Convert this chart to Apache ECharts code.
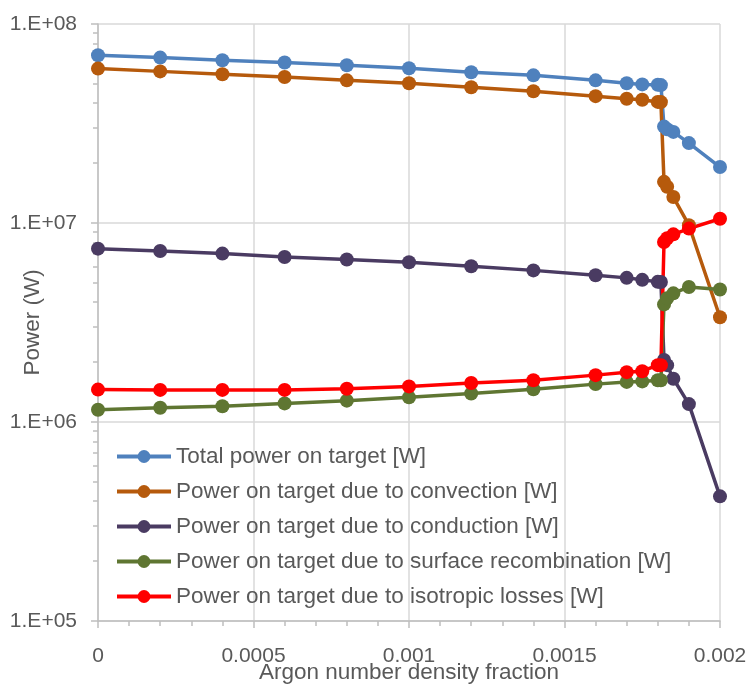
<!DOCTYPE html>
<html>
<head>
<meta charset="utf-8">
<script src="https://cdn.jsdelivr.net/npm/echarts@6/dist/echarts.min.js"></script>
<style>html,body{margin:0;padding:0;background:#fff}#c{width:750px;height:684px}</style>
</head>
<body>
<div id="c"></div>
<script>
var xValues = [0, 0.0002, 0.0004, 0.0006, 0.0008, 0.001, 0.0012, 0.0014, 0.0016, 0.0017, 0.00175, 0.0018, 0.00181, 0.00182, 0.00183, 0.00185, 0.0019, 0.002];
var totalPower = [6.97e7, 6.78e7, 6.57e7, 6.40e7, 6.20e7, 5.99e7, 5.72e7, 5.52e7, 5.21e7, 5.04e7, 4.97e7, 4.95e7, 4.93e7, 3.05e7, 2.96e7, 2.87e7, 2.52e7, 1.91e7];
var convection = [5.97e7, 5.78e7, 5.59e7, 5.42e7, 5.21e7, 5.04e7, 4.81e7, 4.59e7, 4.34e7, 4.21e7, 4.16e7, 4.06e7, 4.05e7, 1.61e7, 1.52e7, 1.35e7, 9.75e6, 3.36e6];
var conduction = [7.43e6, 7.23e6, 7.02e6, 6.75e6, 6.55e6, 6.35e6, 6.06e6, 5.78e6, 5.46e6, 5.30e6, 5.18e6, 5.06e6, 5.05e6, 2.05e6, 1.93e6, 1.65e6, 1.23e6, 4.23e5];
var recombination = [1.153e6, 1.18e6, 1.20e6, 1.24e6, 1.28e6, 1.33e6, 1.39e6, 1.46e6, 1.55e6, 1.59e6, 1.60e6, 1.62e6, 1.62e6, 3.90e6, 4.19e6, 4.43e6, 4.77e6, 4.63e6];
var isotropic = [1.455e6, 1.45e6, 1.45e6, 1.45e6, 1.47e6, 1.51e6, 1.57e6, 1.62e6, 1.72e6, 1.78e6, 1.80e6, 1.93e6, 1.93e6, 8.03e6, 8.38e6, 8.77e6, 9.37e6, 1.05e7];
var seriesNames = ['Total power on target [W]', 'Power on target due to convection [W]', 'Power on target due to conduction [W]', 'Power on target due to surface recombination [W]', 'Power on target due to isotropic losses [W]'];
var seriesColors = ['#4F81BD', '#B65A0C', '#4A3B62', '#5F7632', '#FF0000'];
var xAxisTitle = 'Argon number density fraction';
var yAxisTitle = 'Power (W)';

var allSeries = [totalPower, convection, conduction, recombination, isotropic];
var minorLogTicks = [];
for (var e = 5; e < 8; e++) {
  for (var m = 2; m <= 9; m++) minorLogTicks.push(m * Math.pow(10, e));
}
var font = 'Liberation Sans';
var textColor = '#595959';

var chart = echarts.init(document.getElementById('c'), null, {renderer: 'canvas'});
chart.setOption({
  animation: false,
  backgroundColor: '#fff',
  grid: {left: 98, right: 30, top: 24, bottom: 63, containLabel: false, outerBoundsMode: 'none'},
  legend: {
    orient: 'vertical', left: 110, top: 440,
    itemWidth: 54, itemHeight: 16, itemGap: 12,
    lineStyle: {width: 4},
    textStyle: {fontFamily: font, fontSize: 22.5, color: textColor, lineHeight: 22},
    data: seriesNames
  },
  xAxis: {
    type: 'value', min: 0, max: 0.002, interval: 0.0005,
    name: xAxisTitle, nameLocation: 'middle', nameGap: 40, nameMoveOverlap: false,
    nameTextStyle: {fontFamily: font, fontSize: 22.5, color: textColor},
    axisLine: {show: true, lineStyle: {color: '#BFBFBF', width: 1.5}},
    axisTick: {show: true, length: 7, lineStyle: {color: '#BFBFBF', width: 1.5}},
    minorTick: {show: true, splitNumber: 5, length: 5, lineStyle: {color: '#BFBFBF', width: 1.5}},
    splitLine: {show: true, lineStyle: {color: '#D9D9D9', width: 1.5}},
    axisLabel: {margin: 25, fontFamily: font, fontSize: 21, color: textColor,
      formatter: function (v) { return String(parseFloat(v.toFixed(6))); }}
  },
  yAxis: [{
    type: 'log', logBase: 10, min: 1e5, max: 1e8,
    name: yAxisTitle, nameLocation: 'middle', nameGap: 54, nameRotate: 90, nameMoveOverlap: false,
    nameTextStyle: {fontFamily: font, fontSize: 22.5, color: textColor},
    axisLine: {show: true, lineStyle: {color: '#BFBFBF', width: 1.5}},
    axisTick: {show: true, length: 7, lineStyle: {color: '#BFBFBF', width: 1.5}},
    splitLine: {show: true, lineStyle: {color: '#D9D9D9', width: 1.5}},
    axisLabel: {margin: 21, fontFamily: font, fontSize: 21, color: textColor,
      formatter: function (v) { var ex = Math.round(Math.log10(v)); return '1.E+' + (ex < 10 ? '0' : '') + ex; }}
  }, {
    type: 'log', logBase: 10, min: 1e5, max: 1e8, position: 'left',
    axisLine: {show: false}, splitLine: {show: false}, axisLabel: {show: false},
    axisTick: {show: true, length: 5, customValues: minorLogTicks, lineStyle: {color: '#BFBFBF', width: 1.5}}
  }],
  series: allSeries.map(function (vals, i) {
    return {
      name: seriesNames[i], type: 'line', yAxisIndex: 0,
      data: xValues.map(function (x, j) { return [x, vals[j]]; }),
      symbol: 'circle', symbolSize: 14, showSymbol: true,
      lineStyle: {color: seriesColors[i], width: 3.5},
      itemStyle: {color: seriesColors[i]},
      emphasis: {disabled: true}
    };
  })
});
</script>
</body>
</html>
